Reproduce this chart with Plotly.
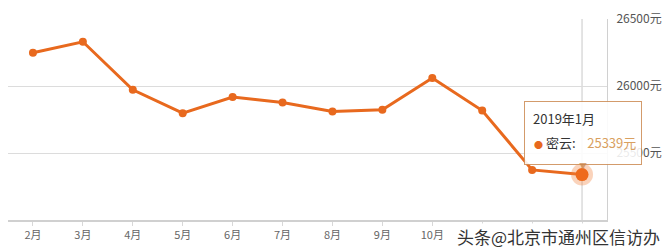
import plotly.graph_objects as go

months = ["2月", "3月", "4月", "5月", "6月", "7月", "8月", "9月", "10月", "11月", "12月", "1月"]
prices = [26248, 26330, 25972, 25797, 25917, 25877, 25809, 25822, 26059, 25817, 25374, 25339]
series_name = "密云"
tip_title = "2019年1月"
y_ticks = [25500, 26000, 26500]
y_ticklabels = [f"{v}元" for v in y_ticks]

LINE = "#E8691E"
FONT = "Noto Sans CJK SC"

fig = go.Figure()
fig.add_trace(go.Scatter(
    x=months, y=prices, mode="lines+markers",
    line=dict(color=LINE, width=3),
    marker=dict(color=LINE, size=8),
    hoverinfo="skip", showlegend=False,
))
# highlighted last point (halo + dot)
fig.add_trace(go.Scatter(
    x=[months[-1]], y=[prices[-1]], mode="markers",
    marker=dict(color="rgba(240,130,60,0.35)", size=22),
    hoverinfo="skip", showlegend=False,
))
fig.add_trace(go.Scatter(
    x=[months[-1]], y=[prices[-1]], mode="markers",
    marker=dict(color="#EE6A1C", size=13),
    hoverinfo="skip", showlegend=False,
))

# crosshair
fig.add_shape(type="line", xref="x", yref="paper", x0=months[-1], x1=months[-1], y0=0, y1=1,
              line=dict(color="#c8c8c8", width=1), layer="below")

# tooltip box
fig.add_annotation(x=months[-1], y=prices[-1], xref="x", yref="y", text="&nbsp;",
                   showarrow=False, width=108, height=54, borderpad=4, borderwidth=1,
                   bordercolor="rgba(200,130,70,0.8)", bgcolor="rgba(255,255,255,0.88)",
                   xanchor="center", yanchor="bottom", yshift=10, xshift=1)
fig.add_annotation(x=months[-1], y=prices[-1], xref="x", yref="y", text=tip_title,
                   showarrow=False, xanchor="left", yanchor="middle", xshift=-51, yshift=56,
                   font=dict(family=FONT, size=13, color="#333"))
fig.add_annotation(x=months[-1], y=prices[-1], xref="x", yref="y",
                   text=f"<span style='color:{LINE};font-size:9px'>●</span> {series_name}:    "
                        f"<span style='color:#D9A060'>{prices[-1]}元</span>",
                   showarrow=False, xanchor="left", yanchor="middle", xshift=-50, yshift=32,
                   font=dict(family=FONT, size=13, color="#333"))
fig.add_annotation(x=months[-1], y=prices[-1], xref="x", yref="y", text="▼",
                   showarrow=False, xanchor="center", yanchor="middle", xshift=1, yshift=9,
                   font=dict(size=8, color="rgba(200,130,70,0.7)"))

# watermark
fig.add_annotation(xref="paper", yref="paper", x=1, y=0, xanchor="right", yanchor="middle",
                   xshift=54, yshift=-16, text="头条@北京市通州区信访办", showarrow=False,
                   bgcolor="white", borderpad=0,
                   font=dict(family=FONT, size=17, color="#333"))

fig.update_layout(
    width=669, height=250,
    margin=dict(l=8, r=62, t=19, b=30),
    paper_bgcolor="white", plot_bgcolor="white",
    font=dict(family=FONT),
    xaxis=dict(
        type="category", range=[-0.5, len(months) - 0.5],
        showgrid=False, showline=True, linecolor="#d0d0d0", linewidth=2,
        ticks="outside", ticklen=4, tickcolor="#d8d8d8",
        tickfont=dict(family=FONT, size=11, color="#666"),
        zeroline=False, fixedrange=True,
    ),
    yaxis=dict(
        side="right", range=[25000, 26500], tickmode="array",
        tickvals=y_ticks, ticktext=y_ticklabels,
        showgrid=True, gridcolor="#dcdcdc", gridwidth=1,
        showline=True, linecolor="#d0d0d0", linewidth=1,
        ticks="", ticklabelstandoff=6,
        tickfont=dict(family=FONT, size=12, color="#555"),
        zeroline=False,
    ),
)

fig.write_html("out.html")
